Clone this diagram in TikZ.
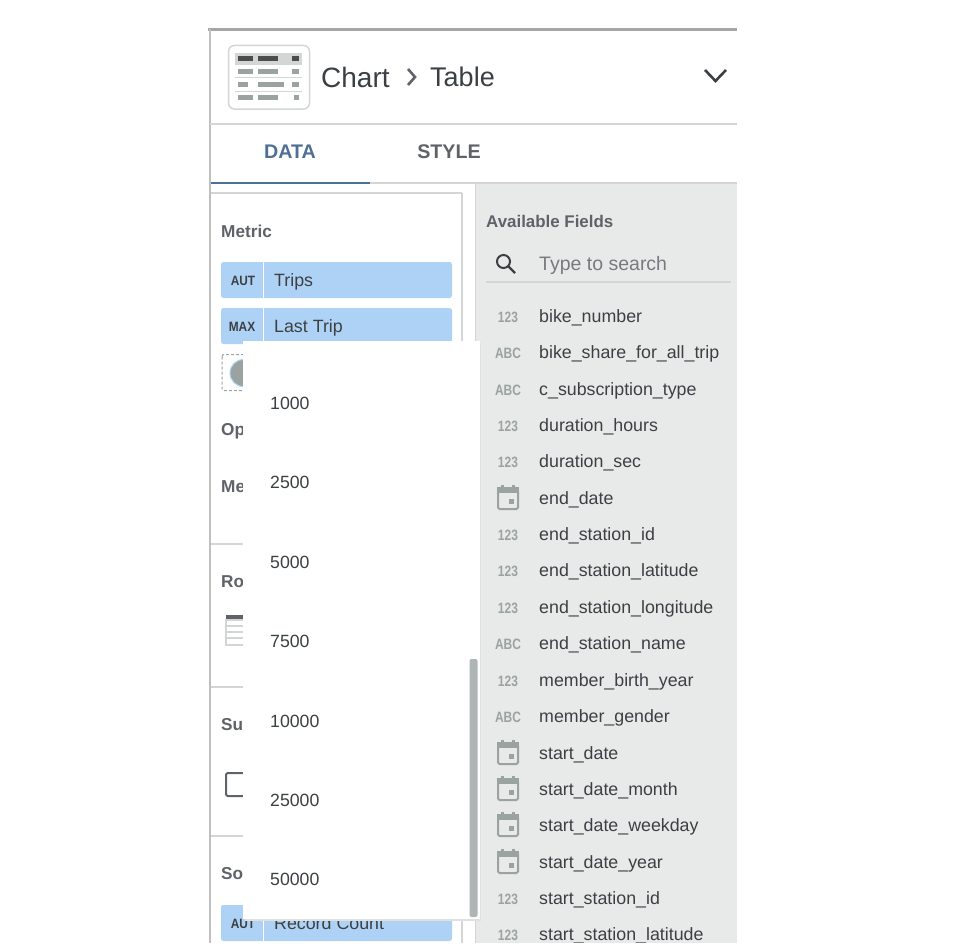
\documentclass[tikz,border=0pt]{standalone}
\usepackage{fontspec}
\setmainfont{Liberation Sans}
\definecolor{panelgrey}{HTML}{E8EAEA}
\definecolor{linegrey}{HTML}{D4D6D6}
\definecolor{chipblue}{HTML}{AED2F5}
\definecolor{inktext}{HTML}{3C4043}
\definecolor{labelgrey}{HTML}{5F6368}
\definecolor{icongrey}{HTML}{9BA3A1}
\definecolor{tabblue}{HTML}{4F6F94}
\tikzset{
	lbl/.style={inner sep=0pt,anchor=west},
	sectionlbl/.style={lbl,text=labelgrey,font=\fontsize{17.2}{19}\selectfont\bfseries},
	valuelbl/.style={lbl,text=inktext,font=\fontsize{17.7}{20}\selectfont},
	fieldlbl/.style={valuelbl,yshift=-2pt,font=\fontsize{17.8}{20}\selectfont},
	typeicon/.style={inner sep=0pt,yshift=-1pt,transform shape,xscale=0.8,text=icongrey,font=\fontsize{15}{17}\selectfont\bfseries},
	numicon/.style={typeicon,xscale=1},
	chip/.style={fill=chipblue,rounded corners=2.5pt},
	chiptag/.style={inner sep=0pt,yshift=-1pt,transform shape,xscale=0.88,text=inktext,font=\fontsize{13.5}{15}\selectfont\bfseries},
	rule/.style={linegrey,line width=1.5pt},
	calicon/.pic={
		\fill[icongrey] (-11,-11) rectangle (11,-5);
		\fill[icongrey] (-7,-13) rectangle (-4,-10);
		\fill[icongrey] (4,-13) rectangle (7,-10);
		\draw[icongrey,line width=2pt,rounded corners=1.5pt] (-10,-8) rectangle (10,11);
		\fill[icongrey] (1,1) rectangle (6,6);
	}
}
\begin{document}
\begin{tikzpicture}[x=1pt,y=-1pt]
	\useasboundingbox (0,0) rectangle (955,950);
	\fill[white] (0,0) rectangle (955,950);

	% Frame and panels
	\fill[panelgrey] (476,183) rectangle (737,943);
	\draw[black!35,line width=3pt] (208,29.5) -- (737,29.5);
	\draw[black!25,line width=2pt] (209.5,29) -- (209.5,943);
	\draw[rule] (210,124) -- (737,124);
	\draw[rule] (370,183) -- (737,183);
	\draw[tabblue,line width=2pt] (211,182.5) -- (370,182.5);
	\draw[rule] (211,193) -- (462,193);
	\draw[rule] (462,193) -- (462,943);
	\draw[rule] (475.5,183) -- (475.5,943);
	\draw[rule] (211,544) -- (462,544);
	\draw[rule] (211,687) -- (462,687);
	\draw[rule] (211,836) -- (462,836);

	% Chart header
	\draw[linegrey,line width=1.5pt,rounded corners=6pt] (228.5,45.5) rectangle (309.5,109);
	\fill[linegrey] (235,53) rectangle (302,65);
	\fill[black!70] (238,56) rectangle (253,61);
	\fill[black!70] (258,56) rectangle (278,61);
	\fill[black!70] (292,56) rectangle (299,61);
	\fill[icongrey] (238,69) rectangle (253,74);
	\fill[icongrey] (258,69) rectangle (278,74);
	\fill[icongrey] (292,69) rectangle (299,74);
	\draw[linegrey] (235,77.5) -- (302,77.5);
	\fill[icongrey] (238,82) rectangle (248,87);
	\fill[icongrey] (258,82) rectangle (284,87);
	\fill[icongrey] (292,82) rectangle (299,87);
	\draw[linegrey] (235,91.5) -- (302,91.5);
	\fill[icongrey] (238,95) rectangle (253,100);
	\fill[icongrey] (258,95) rectangle (278,100);
	\fill[icongrey] (294,95) rectangle (299,100);
	\node[lbl,text=inktext,font=\fontsize{28}{30}\selectfont] (chartlbl) at (321,77) {Chart};
	\draw[labelgrey,line width=2.6pt] (408,69) -- (415,77) -- (408,85);
	\node[lbl,text=inktext,font=\fontsize{27}{30}\selectfont] (tablelbl) at (430,77) {Table};
	\draw[inktext,line width=2.6pt] (705,70) -- (715.5,81) -- (726,70);

	% Tabs
	\node[inner sep=0pt,text=tabblue,font=\fontsize{19.7}{22}\selectfont\bfseries] (datatab) at (290,152) {DATA};
	\node[inner sep=0pt,text=labelgrey,font=\fontsize{19.7}{22}\selectfont\bfseries] (styletab) at (449,152) {STYLE};

	% Left column
	\node[sectionlbl] (metriclbl) at (221,231) {Metric};
	\fill[chip] (221,262) rectangle (452,298);
	\draw[white,line width=1pt] (263,262) -- (263,298);
	\node[chiptag] (tripstag) at (243,280) {AUT};
	\node[fieldlbl] (tripslbl) at (274,280) {Trips};
	\fill[chip] (221,308) rectangle (452,344);
	\draw[white,line width=1pt] (263,308) -- (263,344);
	\node[chiptag] (lasttag) at (242,326) {MAX};
	\node[fieldlbl] (lastlbl) at (274,326) {Last Trip};
	\draw[icongrey,line width=1pt,densely dashed,rounded corners=2pt] (222,354.5) rectangle (262,390.5);
	\fill[icongrey,draw=chipblue,line width=1pt] (243.5,373) circle (13.5);
	\node[sectionlbl] (oplbl) at (221,431) {Op};
	\node[sectionlbl] (melbl) at (221,487) {Me};
	\node[sectionlbl] (rolbl) at (221,582) {Ro};
	\fill[labelgrey] (226,615) rectangle (250,620);
	\draw[linegrey,line width=1.2pt] (226,620) rectangle (250,645);
	\draw[linegrey,line width=1.2pt] (226,626) -- (250,626);
	\draw[linegrey,line width=1.2pt] (226,632) -- (250,632);
	\draw[linegrey,line width=1.2pt] (226,638) -- (250,638);
	\node[sectionlbl] (sulbl) at (221,725) {Su};
	\draw[labelgrey,line width=2pt,rounded corners=1.5pt] (226,773) rectangle (250,796);
	\node[sectionlbl] (solbl) at (221,874) {So};
	\fill[chip] (221,905) rectangle (452,941);
	\draw[white,line width=1pt] (263,905) -- (263,941);
	\node[chiptag] (sorttag) at (243,923) {AUT};
	\node[fieldlbl] (sortlbl) at (274,921) {Record Count};

	% Dropdown list
	\fill[black!12] (245,343) rectangle (481,921);
	\fill[white] (243,341) rectangle (480,919);
	\fill[icongrey!80,rounded corners=2pt] (469.5,659) rectangle (477.5,917);
	\node[valuelbl] (val1) at (270,403) {1000};
	\node[valuelbl] (val2) at (270,482) {2500};
	\node[valuelbl] (val3) at (270,562) {5000};
	\node[valuelbl] (val4) at (270,641) {7500};
	\node[valuelbl] (val5) at (270,721) {10000};
	\node[valuelbl] (val6) at (270,800) {25000};
	\node[valuelbl] (val7) at (270,879) {50000};

	% Right column
	\node[sectionlbl,font=\fontsize{16.9}{19}\selectfont\bfseries] (availlbl) at (486,221) {Available Fields};
	\draw[inktext,line width=2pt] (503.5,261.5) circle (6.5);
	\draw[inktext,line width=2.4pt] (508.5,266.5) -- (515,273);
	\node[lbl,yshift=-2pt,text=labelgrey!85,font=\fontsize{19.5}{22}\selectfont] (searchlbl) at (539,263) {Type to search};
	\draw[rule] (486,282) -- (731,282);

	% Field list
	\node[numicon] (icon1) at (508,316) {123};
	\node[fieldlbl] (field1) at (539,316) {bike\_number};
	\node[typeicon] (icon2) at (508,352) {ABC};
	\node[fieldlbl] (field2) at (539,352) {bike\_share\_for\_all\_trip};
	\node[typeicon] (icon3) at (508,389) {ABC};
	\node[fieldlbl] (field3) at (539,389) {c\_subscription\_type};
	\node[numicon] (icon4) at (508,425) {123};
	\node[fieldlbl] (field4) at (539,425) {duration\_hours};
	\node[numicon] (icon5) at (508,461) {123};
	\node[fieldlbl] (field5) at (539,461) {duration\_sec};
	\pic at (508,498) {calicon};
	\node[fieldlbl] (field6) at (539,498) {end\_date};
	\node[numicon] (icon7) at (508,534) {123};
	\node[fieldlbl] (field7) at (539,534) {end\_station\_id};
	\node[numicon] (icon8) at (508,570) {123};
	\node[fieldlbl] (field8) at (539,570) {end\_station\_latitude};
	\node[numicon] (icon9) at (508,607) {123};
	\node[fieldlbl] (field9) at (539,607) {end\_station\_longitude};
	\node[typeicon] (icon10) at (508,643) {ABC};
	\node[fieldlbl] (field10) at (539,643) {end\_station\_name};
	\node[numicon] (icon11) at (508,680) {123};
	\node[fieldlbl] (field11) at (539,680) {member\_birth\_year};
	\node[typeicon] (icon12) at (508,716) {ABC};
	\node[fieldlbl] (field12) at (539,716) {member\_gender};
	\pic at (508,753) {calicon};
	\node[fieldlbl] (field13) at (539,753) {start\_date};
	\pic at (508,789) {calicon};
	\node[fieldlbl] (field14) at (539,789) {start\_date\_month};
	\pic at (508,825) {calicon};
	\node[fieldlbl] (field15) at (539,825) {start\_date\_weekday};
	\pic at (508,862) {calicon};
	\node[fieldlbl] (field16) at (539,862) {start\_date\_year};
	\node[numicon] (icon17) at (508,898) {123};
	\node[fieldlbl] (field17) at (539,898) {start\_station\_id};
	\node[numicon] (icon18) at (508,934) {123};
	\node[fieldlbl] (field18) at (539,934) {start\_station\_latitude};

	% Cut off at the foot
	\fill[white] (208,943) rectangle (737,950);
\end{tikzpicture}
\end{document}
